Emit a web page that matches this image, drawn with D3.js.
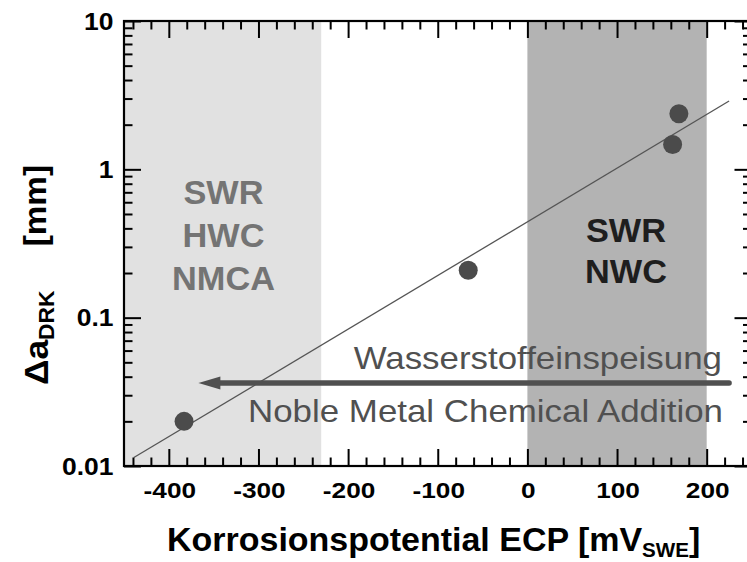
<!DOCTYPE html>
<html><head><meta charset="utf-8">
<script src="https://cdn.jsdelivr.net/npm/d3@7"></script>
<style>body{margin:0;background:#fff;overflow:hidden} text{font-family:"Liberation Sans",Arial,sans-serif}</style>
</head><body><svg id="c" width="747" height="562"></svg>
<script>
// ---- data ----
const ecp = [-383, -66, 162, 169];          // mV_SWE
const crack = [0.020, 0.209, 1.47, 2.37];   // mm
const fitEcp = [-439, 225];
const fitCrack = [0.0114, 2.89];
const xTickValues = [-400, -300, -200, -100, 0, 100, 200];
const yTickValues = [0.01, 0.1, 1, 10];
const yTickLabels = ["0.01", "0.1", "1", "10"];
const zoneStart = [-450, 0];
const zoneEnd = [-230, 200];
const zoneLabels = [["SWR", "HWC", "NMCA"], ["SWR", "NWC"]];
const arrowEcp = [225, -367];
const arrowCrack = 0.0363;
const noteLines = ["Wasserstoffeinspeisung", "Noble Metal Chemical Addition"];

// ---- layout ----
const svg = d3.select("#c");
const x = d3.scaleLinear().domain([-450, 250]).range([124, 751.5]);
const y = d3.scaleLog().domain([0.01, 10]).range([466, 21]);

function stext(g, px, py, str, size, weight, fill, anchor, sx) {
  return g.append("text")
    .attr("transform", `translate(${px},${py}) scale(${sx},1)`)
    .attr("text-anchor", anchor || "start")
    .attr("font-size", size).attr("font-weight", weight).attr("fill", fill)
    .text(str);
}

// zones
const zoneFill = ["#e1e1e1", "#b3b3b3"];
zoneStart.forEach((s, i) => {
  svg.append("rect").attr("x", x(s)).attr("y", y(10))
    .attr("width", x(zoneEnd[i]) - x(s)).attr("height", y(0.01) - y(10))
    .attr("fill", zoneFill[i]);
});

// zone labels
const zoneTextFill = ["#747474", "#1e1e1e"];
const zoneTextX = [223.5, 626];
const zoneTextY = [[204, 247, 290], [242, 283]];
zoneLabels.forEach((lines, i) => {
  lines.forEach((t, j) => stext(svg, zoneTextX[i], zoneTextY[i][j], t, 33, "bold", zoneTextFill[i], "middle", 1.04));
});

// fit line
svg.append("line")
  .attr("x1", x(fitEcp[0])).attr("y1", y(fitCrack[0]))
  .attr("x2", x(fitEcp[1])).attr("y2", y(fitCrack[1]))
  .attr("stroke", "#555").attr("stroke-width", 1.3);

// points
svg.selectAll("circle.pt").data(ecp).enter().append("circle")
  .attr("class", "pt")
  .attr("cx", d => x(d)).attr("cy", (d, i) => y(crack[i]))
  .attr("r", 9.5).attr("fill", "#4b4b4b");

// arrow
const ay = y(arrowCrack);
const tipX = x(arrowEcp[1]);
svg.append("line").attr("x1", x(arrowEcp[0])).attr("y1", ay)
  .attr("x2", tipX + 18).attr("y2", ay)
  .attr("stroke", "#505050").attr("stroke-width", 5.5).attr("stroke-linecap", "round");
svg.append("path")
  .attr("d", `M${tipX},${ay} L${tipX + 22},${ay - 6.5} L${tipX + 22},${ay + 6.5} Z`)
  .attr("fill", "#505050");

// notes
stext(svg, 722, 369, noteLines[0], 32, "normal", "#505050", "end", 1.09);
stext(svg, 723, 422, noteLines[1], 32, "normal", "#505050", "end", 1.09);

// axes ticks
const minorX = d3.range(-440, 250, 20).filter(v => v % 100 !== 0);
const minorY = [];
[0.01, 0.1, 1].forEach(d => { for (let k = 2; k <= 9; k++) minorY.push(d * k); });

function tickAxis(axisFn, scale, values, size, tx, ty) {
  const g = svg.append("g").attr("transform", `translate(${tx},${ty})`)
    .call(axisFn(scale).tickValues(values).tickSize(size).tickFormat(""));
  g.select(".domain").remove();
  g.selectAll(".tick line").attr("stroke", "#000").attr("stroke-width", 2);
}
const L = x.range()[0], R = x.range()[1], T = y.range()[1], B = y.range()[0];
tickAxis(d3.axisTop, x, xTickValues, 17, 0, B);
tickAxis(d3.axisTop, x, minorX, 8.5, 0, B);
tickAxis(d3.axisBottom, x, xTickValues, 17, 0, T);
tickAxis(d3.axisBottom, x, minorX, 8.5, 0, T);
tickAxis(d3.axisRight, y, yTickValues, 17, L, 0);
tickAxis(d3.axisRight, y, minorY, 8.5, L, 0);
tickAxis(d3.axisLeft, y, yTickValues, 17, R, 0);
tickAxis(d3.axisLeft, y, minorY, 8.5, R, 0);

// frame
svg.append("rect").attr("x", L).attr("y", T).attr("width", R - L).attr("height", B - T)
  .attr("fill", "none").attr("stroke", "#000").attr("stroke-width", 2.2);

// tick labels
xTickValues.forEach(v => stext(svg, x(v) + 1, 498, String(v), 21.5, "bold", "#000", "middle", 1.22));
yTickValues.forEach((v, i) => stext(svg, 113.5, y(v) + 8.5, yTickLabels[i], 23, "bold", "#000", "end", 1.15));

// x title
const xt = svg.append("text").attr("transform", "translate(167,551) scale(1.03,1)")
  .attr("font-size", 33).attr("font-weight", "bold").attr("fill", "#000");
xt.append("tspan").text("Korrosionspotential ECP [mV");
xt.append("tspan").attr("font-size", 20).attr("dy", 6).text("SWE");
xt.append("tspan").attr("dy", -6).text("]");

// y title (rotated)
const yt = svg.append("text").attr("transform", "translate(48,385) rotate(-90) scale(1.04,1)")
  .attr("text-anchor", "start").attr("font-size", 34).attr("font-weight", "bold").attr("fill", "#000");
yt.append("tspan").text("Δa");
yt.append("tspan").attr("font-size", 22).attr("dy", 6).text("DRK");
svg.append("text").attr("transform", "translate(46,165) rotate(-90) scale(1.04,1)")
  .attr("text-anchor", "end").attr("font-size", 32).attr("font-weight", "bold").attr("fill", "#000")
  .text("[mm]");
</script>
</body></html>
